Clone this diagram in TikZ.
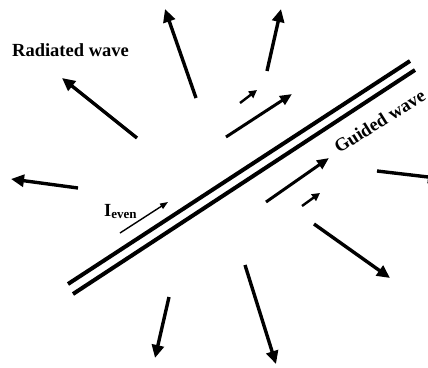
\documentclass[tikz,border=0pt]{standalone}
\usepackage{fontspec}
\setmainfont{Liberation Serif}
\usetikzlibrary{arrows.meta}
\definecolor{waveBlack}{HTML}{000000}
\tikzset{
  bigArrow/.style={-{Triangle[length=13pt, width=12pt]}, waveBlack, line width=3.4pt},
  midArrow/.style={-{Triangle[length=12pt, width=10pt]}, waveBlack, line width=3pt},
  smallArrow/.style={-{Triangle[length=8pt, width=8pt]}, waveBlack, line width=2.4pt},
  thinArrow/.style={-{Triangle[length=8pt, width=6pt]}, waveBlack, line width=1.4pt},
  lineWire/.style={waveBlack, line width=4pt},
  labelText/.style={font=\fontsize{18.5}{22}\selectfont\bfseries, inner sep=0pt},
}
\begin{document}
\begin{tikzpicture}[x=1pt, y=-1pt]
  \useasboundingbox (0,0) rectangle (428,367);
  \clip (0,0) rectangle (428,367);
  \coordinate (wireA1) at (68,284);
  \coordinate (wireA2) at (410,61);
  \coordinate (wireB1) at (73,294);
  \coordinate (wireB2) at (415,70);
  \draw[lineWire] (wireA1) -- (wireA2);
  \draw[lineWire] (wireB1) -- (wireB2);
  \foreach \n/\sx/\sy/\ex/\ey in {radA/196/98/165/9, radB/137/138/62/78,
      radC/78/188/11/179, radD/267/71/281/9, radE/314/224/390/278,
      radF/245/265/276/364, radG/169/297/155/358, radH/377/171/441/178.5}{
    \coordinate (\n-tail) at (\sx,\sy);
    \coordinate (\n-head) at (\ex,\ey);
    \draw[bigArrow] (\n-tail) -- (\n-head);
  }
  \foreach \n/\sx/\sy/\ex/\ey in {guideA/226/137/292/94, guideB/266/202/329/158}{
    \coordinate (\n-tail) at (\sx,\sy);
    \coordinate (\n-head) at (\ex,\ey);
    \draw[midArrow] (\n-tail) -- (\n-head);
  }
  \foreach \n/\sx/\sy/\ex/\ey in {curA/240/103/257/90, curB/302/206/320/193}{
    \coordinate (\n-tail) at (\sx,\sy);
    \coordinate (\n-head) at (\ex,\ey);
    \draw[smallArrow] (\n-tail) -- (\n-head);
  }
  \coordinate (even-tail) at (120,233);
  \coordinate (even-head) at (168,202);
  \draw[thinArrow] (even-tail) -- (even-head);
  \node[labelText, anchor=base west] (radiated) at (12,56) {Radiated wave};
  \node[labelText, anchor=base west, rotate=32] (guided) at (339,154) {Guided wave};
  \node[labelText, anchor=base west] (ieven) at (104,216)
    {I\raisebox{-0.35ex}{\fontsize{13}{13}\selectfont even}};
\end{tikzpicture}
\end{document}
